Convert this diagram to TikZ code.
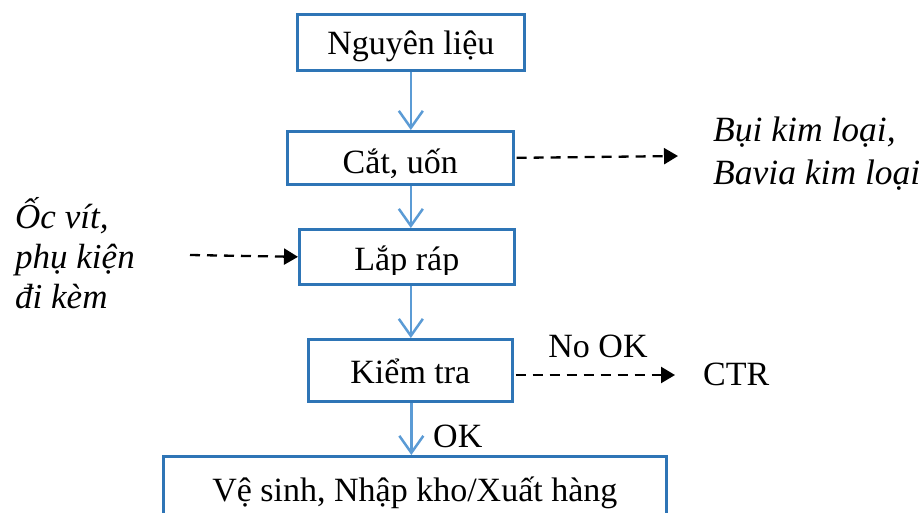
\documentclass[tikz,border=0pt]{standalone}
\usepackage{fontspec}
\setmainfont{Liberation Serif}
\usetikzlibrary{arrows.meta,calc}
\definecolor{boxblue}{HTML}{2E75B6}
\definecolor{flowblue}{HTML}{5B9BD5}
\begin{document}
\begin{tikzpicture}[x=1pt,y=-1pt,
  every node/.style={font=\fontsize{34}{40}\selectfont, inner sep=0pt},
  procbox/.style={draw=boxblue, line width=2.7pt, anchor=north west},
  % label of a box: #1 = baseline above the bottom edge, #2 = text clip above the bottom edge
  boxlabel/.style n args={3}{path picture={
      \clip ([yshift=#2]path picture bounding box.south west) rectangle (path picture bounding box.north east);
      \node[anchor=base] at ([yshift=#1]path picture bounding box.south) {#3};}},
  flowarrow/.style={draw=flowblue, line width=2.5pt,
    -{Straight Barb[length=17pt,width=24pt]}},
  sidearrow/.style={draw=black, line width=2.3pt, dash pattern=on 10pt off 7pt,
    -{Triangle[length=14pt,width=16pt]}},
  sidetext/.style={anchor=base west, align=left}
]
\useasboundingbox (0,0) rectangle (924,512);

% process boxes
\node[procbox, minimum width=227pt, minimum height=56pt,
  boxlabel={16pt}{7pt}{Nguyên liệu}] (nl) at (296,13) {};
\node[procbox, minimum width=226pt, minimum height=53pt,
  boxlabel={11pt}{7pt}{Cắt, uốn}] (cu) at (286,130) {};
\node[procbox, minimum width=215pt, minimum height=55pt,
  boxlabel={14pt}{10pt}{Lắp ráp}] (lr) at (298,228) {};
\node[procbox, minimum width=204pt, minimum height=62pt,
  boxlabel={18pt}{2pt}{Kiểm tra}] (kt) at (307,338) {};
\node[procbox, minimum width=503pt, minimum height=75pt,
  boxlabel={30pt}{2pt}{Vệ sinh, Nhập kho/Xuất hàng}] (vs) at (162,455) {};

% main flow
\draw[flowarrow] (nl.south) -- (nl.south |- cu.north);
\draw[flowarrow] (nl.south |- cu.south) -- (nl.south |- lr.north);
\draw[flowarrow] (nl.south |- lr.south) -- (nl.south |- kt.north);
\draw[flowarrow] ([xshift=1pt]kt.south) -- ([xshift=1pt]kt.south |- vs.north);
\node[anchor=base west] (ok) at (433,447) {OK};

% side inputs and outputs (anchored on the baseline of the last line)
\node[sidetext, font=\fontsize{35.5}{43}\selectfont\itshape] (bui) at (713,184) {Bụi kim loại,\\Bavia kim loại};
\coordinate (buiin) at (678,156);
\draw[sidearrow] ([xshift=2pt]cu.east) -- (buiin);

\node[sidetext, font=\fontsize{35}{40}\selectfont\itshape] (oc) at (15,308) {Ốc vít,\\phụ kiện\\đi kèm};
\coordinate (ocout) at (190,255);
\draw[sidearrow] (ocout) -- (lr.west);

\node[anchor=base west] (ctr) at (703,385) {CTR};
\node[anchor=base] (nook) at (598,357) {No OK};
\coordinate (ctrin) at (675,375);
\draw[sidearrow] ([xshift=2pt]kt.east |- ctrin) -- (ctrin);
\end{tikzpicture}
\end{document}
